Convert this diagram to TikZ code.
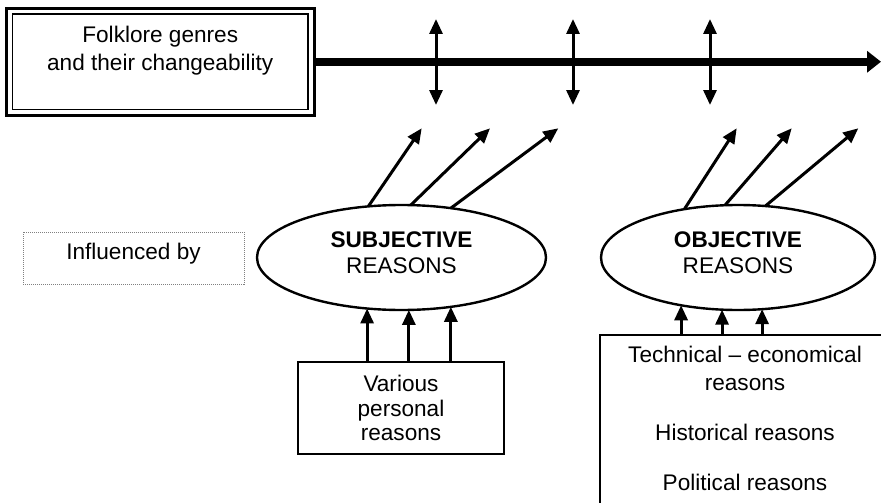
\documentclass[tikz,border=0pt]{standalone}
\usepackage{fontspec}
\setmainfont{Liberation Sans}
\usetikzlibrary{arrows.meta,shapes.geometric,calc}
\newcommand\fsz{\fontsize{22.6}{28}\selectfont}
\begin{document}
\begin{tikzpicture}[x=1pt,y=-1pt,
  txt/.style={font=\fsz, align=center, inner sep=0pt},
  frame/.style={draw, line width=3pt, inner sep=0pt, outer sep=0pt},
  boxline/.style={line width=2.4pt},
  ell/.style={draw, ellipse, line width=2.4pt, inner sep=0pt, outer sep=0pt},
  tipa/.tip={Triangle[length=15pt,width=13pt]},
  arr/.style={line width=3pt, -tipa},
  dbl/.style={line width=3pt, tipa-tipa},
  mainarr/.style={line width=8pt, -{Triangle[length=14pt,width=21pt]}}]
\useasboundingbox (0,0) rectangle (881,503);
\fill[white] (0,0) rectangle (881,503);

% title box (double frame)
\node[frame, minimum width=307.5pt, minimum height=106.5pt] (genre) at (160.25,61.75) {};
\draw[line width=1.5pt] ([shift={(6pt,-5.5pt)}]genre.north west) rectangle ([shift={(-6pt,5.5pt)}]genre.south east);
\node[txt, anchor=north] (genretext) at (160.25,25.8) {Folklore genres\\and their changeability};

% main axis
\coordinate (axisend) at (881,61.75);
\draw[mainarr] (genre.east) -- (axisend);

% vertical double arrows
\foreach \i/\x in {1/436,2/573,3/710}{
  \coordinate (vt\i) at (\x,19);
  \coordinate (vb\i) at (\x,105);
  \draw[dbl] (vt\i) -- (vb\i);
}

% influenced by
\node[draw=gray, densely dotted, line width=1pt, minimum width=221pt, minimum height=52pt,
      inner sep=0pt, font=\fsz, text depth=12.5pt] (infl) at (133.5,258) {Influenced by};

% ellipses
\node[ell, minimum width=289pt, minimum height=105pt] (subj) at (401.5,257.5) {};
\node[txt, anchor=north] (subjtext) at (401.5,231.8) {\textbf{SUBJECTIVE}\\[-2pt]REASONS};
\node[ell, minimum width=274pt, minimum height=105pt] (obj) at (738,257.5) {};
\node[txt, anchor=north] (objtext) at (738,231.8) {\textbf{OBJECTIVE}\\[-2pt]REASONS};

% diagonal arrows
\coordinate (s1) at (421.7,128.3);
\coordinate (s2) at (490,128.3);
\coordinate (s3) at (558.3,128.3);
\draw[arr] (subj.123.3) -- (s1);
\draw[arr] (subj.80.8) -- (s2);
\draw[arr] (subj.45.6) -- (s3);
\coordinate (o1) at (736.7,128.3);
\coordinate (o2) at (791.7,128.3);
\coordinate (o3) at (858.3,128.3);
\draw[arr] (obj.138.8) -- (o1);
\draw[arr] (obj.104) -- (o2);
\draw[arr] (obj.62.3) -- (o3);

% various personal reasons
\node[draw, line width=2.4pt, minimum width=206pt, minimum height=92pt, inner sep=0pt, outer sep=0pt,
      align=center, font=\fontsize{22.6}{24.5}\selectfont] (various) at (401,408) {Various\\personal\\reasons};
\draw[arr] (subj.-124.1 |- various.north) -- (subj.-124.1);
\draw[arr] (subj.-82.9 |- various.north) -- (subj.-82.9);
\draw[arr] (subj.-45.55 |- various.north) -- (subj.-45.55);

% objective reasons box (open to the right and bottom)
\coordinate (techNW) at (600,335);
\coordinate (techSW) at (600,503);
\coordinate (techNE) at (881,335);
\draw[boxline] (techSW) -- (techNW) -- (techNE);
\node[txt, anchor=north] (techtext) at (745,345.8) {Technical – economical\\reasons\\[22pt]Historical reasons\\[22pt]Political reasons};
\draw[arr] (obj.220.5 |- techNW) -- (obj.220.5);
\draw[arr] (obj.253.96 |- techNW) -- (obj.253.96);
\draw[arr] (obj.295.85 |- techNW) -- (obj.295.85);
\end{tikzpicture}
\end{document}
